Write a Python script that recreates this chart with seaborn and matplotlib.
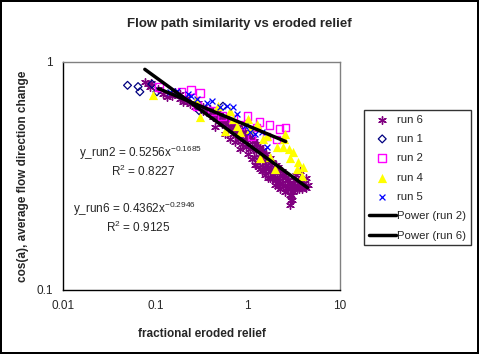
import numpy as np
import pandas as pd
import seaborn as sns
import matplotlib
matplotlib.use('Agg')
import matplotlib.pyplot as plt

# ---- data ----
run6_x = [0.077, 0.083, 0.089, 0.087, 0.106, 0.121, 0.133, 0.151, 0.163, 0.184, 0.198, 0.219,
          0.236, 0.267, 0.288, 0.326, 0.352, 0.388, 0.419, 0.462, 0.498, 0.524, 0.578, 0.608,
          0.655, 0.689, 0.742, 0.780, 0.820, 0.861, 0.928, 0.951, 1.0, 1.051, 1.105, 1.161,
          1.219, 1.250, 1.314, 1.349, 1.417, 1.452, 1.527, 1.566, 1.645, 1.73, 1.774, 1.817,
          1.91, 2.01, 2.06, 2.11, 2.22, 2.33, 2.39, 2.51, 2.64, 2.71, 2.84, 2.92, 2.99, 2.84,
          3.06, 3.22, 3.39, 3.56, 3.65, 3.84, 4.03, 4.24, 4.45, 3.30, 3.65, 4.24, 1.0, 1.191,
          1.527, 1.96, 2.51, 1.349, 1.73, 2.22, 0.820, 0.638, 0.564, 0.440, 0.723,
          0.184, 0.219, 0.267, 0.326, 0.388, 0.419, 0.462, 0.498, 0.524, 0.578, 0.608, 0.655,
          0.689, 0.742, 0.780, 0.820, 0.861, 0.928, 0.951, 1.051, 1.105, 1.161, 1.219, 1.250,
          1.314, 1.417, 1.452, 1.527, 1.566, 1.645, 1.73, 1.774, 1.817, 1.91, 2.01, 2.06,
          2.11, 2.22, 2.33, 2.39, 2.51, 2.64, 2.71, 2.84, 2.99, 3.06, 3.22, 3.39, 3.56, 3.84,
          4.03, 2.84, 2.92, 1.105, 1.219, 1.417, 1.645]
run6_y = [0.816, 0.800, 0.808, 0.776, 0.760, 0.723, 0.701, 0.708, 0.738, 0.687, 0.667, 0.694,
          0.653, 0.634, 0.660, 0.608, 0.621, 0.590, 0.573, 0.602, 0.550, 0.573, 0.533, 0.555,
          0.507, 0.528, 0.492, 0.517, 0.467, 0.502, 0.458, 0.482, 0.435, 0.467, 0.422, 0.449,
          0.406, 0.435, 0.385, 0.422, 0.374, 0.410, 0.362, 0.393, 0.348, 0.381, 0.334, 0.366,
          0.321, 0.355, 0.308, 0.345, 0.296, 0.331, 0.287, 0.318, 0.281, 0.305, 0.276, 0.262,
          0.249, 0.237, 0.296, 0.281, 0.290, 0.276, 0.305, 0.287, 0.296, 0.281, 0.290, 0.318,
          0.331, 0.311, 0.393, 0.355, 0.321, 0.290, 0.270, 0.338, 0.311, 0.276, 0.414, 0.458,
          0.482, 0.517, 0.444,
          0.723, 0.667, 0.660, 0.634, 0.621, 0.602, 0.573, 0.590, 0.533, 0.555, 0.507, 0.533,
          0.482, 0.517, 0.458, 0.502, 0.435, 0.492, 0.422, 0.414, 0.458, 0.385, 0.435, 0.366,
          0.414, 0.393, 0.348, 0.385, 0.338, 0.374, 0.334, 0.366, 0.311, 0.348, 0.305, 0.338,
          0.287, 0.321, 0.296, 0.311, 0.287, 0.305, 0.276, 0.296, 0.287, 0.270, 0.305, 0.276,
          0.296, 0.276, 0.287, 0.262, 0.249, 0.374, 0.355, 0.331, 0.311]

run1_x = [0.050, 0.065, 0.068, 0.092, 0.104, 0.30, 0.54]
run1_y = [0.79, 0.78, 0.74, 0.80, 0.74, 0.61, 0.64]

run2_x = [0.109, 0.193, 0.242, 0.303, 0.281, 0.408, 0.524, 0.689, 1.0, 0.82, 1.35, 1.73,
          2.22, 2.58, 1.25, 2.06, 1.60, 1.10]
run2_y = [0.776, 0.738, 0.753, 0.730, 0.640, 0.608, 0.578, 0.561, 0.578, 0.528, 0.544, 0.528,
          0.507, 0.517, 0.517, 0.458, 0.472, 0.472]

run4_x = [0.094, 0.274, 0.303, 0.474, 0.563, 0.689, 0.760, 0.82, 1.05, 1.25, 1.35, 1.45,
          1.64, 1.73, 1.96, 2.06, 2.39, 2.45, 2.51, 2.77, 2.84, 3.06, 3.39, 3.47, 3.84, 3.93,
          1.0, 0.638]
run4_y = [0.716, 0.680, 0.573, 0.640, 0.497, 0.561, 0.523, 0.492, 0.507, 0.533, 0.381, 0.458,
          0.472, 0.385, 0.338, 0.422, 0.422, 0.458, 0.482, 0.414, 0.381, 0.401, 0.338, 0.366,
          0.315, 0.348, 0.561, 0.608]

run5_x = [0.144, 0.171, 0.224, 0.242, 0.281, 0.361, 0.408, 0.498, 0.593, 0.689, 0.760, 0.93,
          1.05, 1.19, 1.42, 1.60]
run5_y = [0.738, 0.745, 0.723, 0.708, 0.687, 0.660, 0.673, 0.634, 0.640, 0.634, 0.590, 0.523,
          0.492, 0.482, 0.492, 0.422]

# Excel power trendline coefficients (from the chart labels)
fit2_a, fit2_b, fit2_r2 = 0.5256, -0.1685, 0.8227
fit6_a, fit6_b, fit6_r2 = 0.4362, -0.2946, 0.9125

sns.set_style('white')
plt.rcParams['font.family'] = ['Liberation Sans', 'DejaVu Sans']
plt.rcParams['mathtext.fontset'] = 'custom'
plt.rcParams['mathtext.rm'] = 'Liberation Sans'

fig = plt.figure(figsize=(4.79, 3.54), dpi=100)
fig.patch.set_facecolor('white')
fig.patch.set_edgecolor('black')
fig.patch.set_linewidth(1.5)
ax = fig.add_axes([0.1315, 0.1808, 0.5783, 0.6441])

sns.scatterplot(x=run6_x, y=run6_y, marker=(6, 2, 0), color='#800080', s=30, linewidth=1.0,
                label='run 6', ax=ax, zorder=2)
sns.scatterplot(x=run1_x, y=run1_y, marker='D', s=16, facecolors='none', edgecolor='#000080',
                linewidth=0.9, label='run 1', ax=ax, zorder=3)
sns.scatterplot(x=run2_x, y=run2_y, marker='s', s=30, facecolors='none', edgecolor='#FF00FF',
                linewidth=1.0, label='run 2', ax=ax, zorder=3)
sns.scatterplot(x=run4_x, y=run4_y, marker='^', s=44, color='#FFFF00', edgecolor='#FFFF00',
                linewidth=0, label='run 4', ax=ax, zorder=3)
sns.scatterplot(x=run5_x, y=run5_y, marker='x', s=18, color='#0000FF', linewidth=0.9,
                label='run 5', ax=ax, zorder=4)

# power trendlines over the range of each series
xs2 = np.geomspace(min(run2_x), max(run2_x), 50)
xs6 = np.geomspace(min(run6_x), max(run6_x), 50)
sns.lineplot(x=xs2, y=fit2_a * xs2 ** fit2_b, color='black', linewidth=2.5,
             label='Power (run 2)', ax=ax, zorder=5)
sns.lineplot(x=xs6, y=fit6_a * xs6 ** fit6_b, color='black', linewidth=2.5,
             label='Power (run 6)', ax=ax, zorder=5)

ax.set_xscale('log')
ax.set_yscale('log')
ax.set_xlim(0.01, 10)
ax.set_ylim(0.1, 1)
ax.set_xticks([0.01, 0.1, 1, 10])
ax.set_xticklabels(['0.01', '0.1', '1', '10'])
ax.set_yticks([0.1, 1])
ax.set_yticklabels(['0.1', '1'])
ax.minorticks_off()
ax.tick_params(axis='both', which='major', direction='inout', length=7, width=1,
               labelsize=8.5, color='black', pad=4)

for side in ['left', 'bottom']:
    ax.spines[side].set_color('black')
    ax.spines[side].set_linewidth(1)
for side in ['top', 'right']:
    ax.spines[side].set_color('#808080')
    ax.spines[side].set_linewidth(1)

ax.set_xlabel('fractional eroded relief', fontsize=8.5, fontweight='bold', labelpad=11)
ax.set_ylabel('cos(a), average flow direction change', fontsize=8.5, fontweight='bold',
              labelpad=5)
fig.suptitle('Flow path similarity vs eroded relief', fontsize=9.5, fontweight='bold',
             x=0.5, y=0.95)

# trendline equation labels
ax.text(0.0149, 0.401, r'y_run2 = %.4fx$^{%.4f}$' % (fit2_a, fit2_b), fontsize=8.5,
        ha='left', va='center')
ax.text(0.0737, 0.331, r'R$^{2}$ = %.4f' % fit2_r2, fontsize=8.5, ha='center', va='center')
ax.text(0.0128, 0.227, r'y_run6 = %.4fx$^{%.4f}$' % (fit6_a, fit6_b), fontsize=8.5,
        ha='left', va='center')
ax.text(0.0647, 0.1876, r'R$^{2}$ = %.4f' % fit6_r2, fontsize=8.5, ha='center', va='center')

leg = ax.legend(loc='upper left', bbox_to_anchor=(364 / 479, 1 - 110 / 354),
                bbox_transform=fig.transFigure, borderaxespad=0, fontsize=8.2,
                frameon=True, fancybox=False, edgecolor='black', handlelength=2.4,
                handletextpad=0.1, labelspacing=0.82, borderpad=0.4)
leg.get_frame().set_linewidth(1)

fig.savefig('out.png', dpi=100)
